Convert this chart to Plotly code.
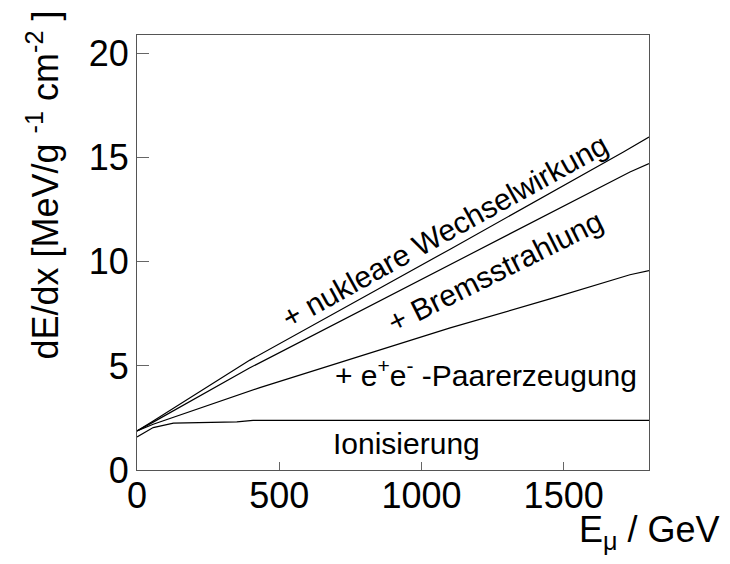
import plotly.graph_objects as go

# Data (E in GeV, dE/dx in MeV g^-1 cm^2)
e_ion = [0, 57, 128, 351, 408, 1800]
de_ion = [1.59, 2.04, 2.25, 2.31, 2.38, 2.38]

e_pair = [0, 57, 432, 1101, 1452, 1733, 1800]
de_pair = [1.88, 2.2, 3.96, 6.83, 8.22, 9.38, 9.58]

e_brems = [0, 57, 397, 1101, 1733, 1800]
de_brems = [1.88, 2.3, 4.91, 9.86, 14.32, 14.72]

e_nucl = [0, 57, 397, 1101, 1710, 1800]
de_nucl = [1.88, 2.35, 5.28, 10.61, 15.28, 16.0]

x_ticks = [0, 500, 1000, 1500]
y_ticks = [0, 5, 10, 15, 20]

FONT = "Liberation Sans, Arial, sans-serif"

fig = go.Figure()
for xs, ys in [(e_ion, de_ion), (e_pair, de_pair), (e_brems, de_brems), (e_nucl, de_nucl)]:
    fig.add_trace(go.Scatter(x=xs, y=ys, mode="lines",
                             line=dict(color="black", width=1.2),
                             showlegend=False, hoverinfo="skip"))

# page has an 8px body margin; work in page pixel coordinates
OFF = 8
W, H = 730 - 2 * OFF, 564 - 2 * OFF
L, R, T, B = 137 - OFF, 649 - OFF, 35 - OFF, 470 - OFF

def px(x):
    return (x - OFF - L) / (R - L)

def py(y):
    return (B - (y - OFF)) / (B - T)

annotations = [
    dict(text="+ nukleare Wechselwirkung", x=px(444), y=py(231), textangle=-29,
         font=dict(size=30)),
    dict(text="+ Bremsstrahlung", x=px(495), y=py(271), textangle=-26.5,
         font=dict(size=30)),
    dict(text="+ e<sup>+</sup>e<sup>-</sup> -Paarerzeugung", x=px(486), y=py(373),
         font=dict(size=30)),
    dict(text="Ionisierung", x=px(406), y=py(443), font=dict(size=30)),
    dict(text="E<sub>μ</sub> / GeV", x=px(722), y=py(532), xanchor="right",
         font=dict(size=36)),
    dict(text="dE/dx [MeV/g <sup>-1</sup> cm<sup>-2</sup> ]", x=px(42), y=py(9),
         yanchor="top", textangle=-90, font=dict(size=36)),
]
for a in annotations:
    a.update(xref="paper", yref="paper", showarrow=False)
    a.setdefault("xanchor", "center")
    a.setdefault("yanchor", "middle")
    a["font"]["family"] = FONT
    a["font"]["color"] = "black"

fig.update_layout(
    width=W, height=H,
    margin=dict(l=L, r=W - R, t=T, b=H - B, pad=0),
    paper_bgcolor="white", plot_bgcolor="white",
    font=dict(family=FONT, color="black", size=36),
    annotations=annotations,
    xaxis=dict(range=[0, 1800], tickvals=x_ticks, ticks="inside", ticklen=8,
               tickcolor="#666", tickwidth=1, showgrid=False, zeroline=False,
               showline=True, linecolor="#555", linewidth=1.2, mirror=True,
               tickfont=dict(size=36), ticklabelstandoff=-6),
    yaxis=dict(range=[0, 20.9], tickvals=y_ticks, ticks="inside", ticklen=12,
               tickcolor="#666", tickwidth=1, showgrid=False, zeroline=False,
               showline=True, linecolor="#555", linewidth=1.2, mirror=True,
               tickfont=dict(size=36)),
)

fig.write_html("out.html")
